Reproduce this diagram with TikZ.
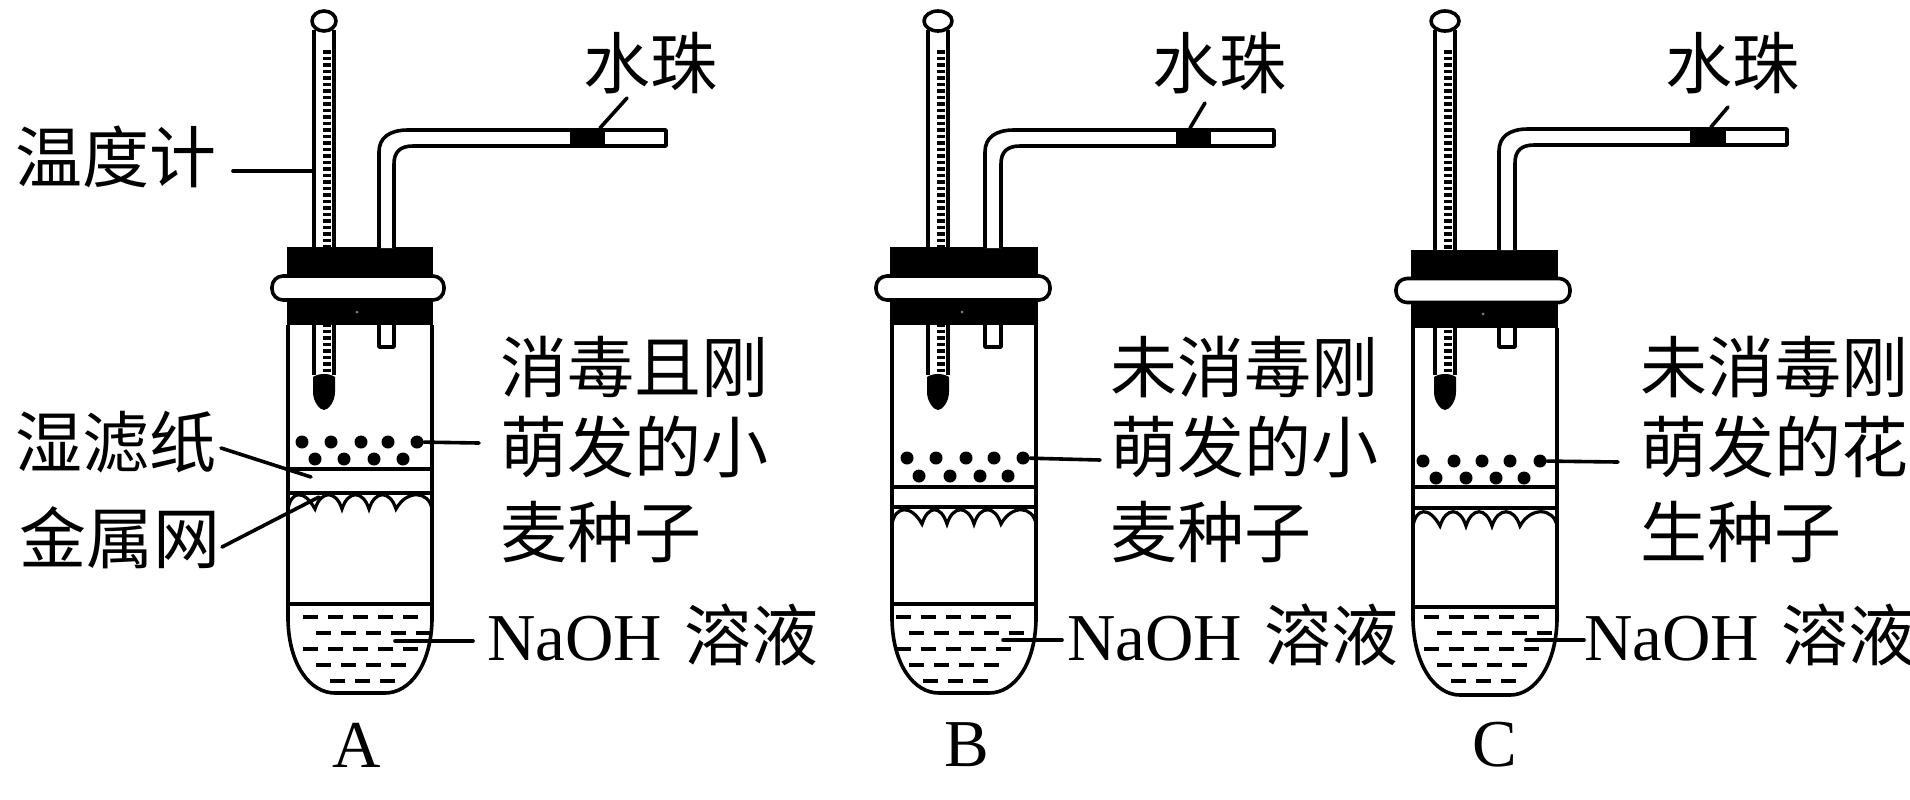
\documentclass[tikz,border=0pt]{standalone}
\usepackage{fontspec}
\setmainfont{Liberation Serif}
\newfontfamily\cjk{Noto Sans CJK SC}
\tikzset{
  wall/.style={line width=1.8pt,line join=round},
  leader/.style={line width=1.8pt,line cap=round},
  lab/.style={inner sep=0pt,anchor=west,font=\fontsize{33.5}{33.5}\selectfont\cjk,text height=29.5pt,text depth=4pt},
  latin/.style={inner sep=0pt,anchor=center,font=\fontsize{33.5}{33.5}\selectfont},
  liquid/.style={line width=1.8pt,dash pattern=on 7.5pt off 5pt},
  seed/.style={circle,fill=black,inner sep=0pt,minimum size=6.5pt},
}
% thermometer, stopper, ring: c, top rx, stopper L R, ring L R, dy, tube L R
\newcommand{\Head}[9]{%
  \draw[wall] (#8,{325+#7}) -- (#8,620);
  \draw[wall] (#9,{325+#7}) -- (#9,620);
  \draw[wall] ({#1-10},30) -- ({#1-10},{375});
  \draw[wall] ({#1+10},30) -- ({#1+10},{375});
  \draw[line width=4pt,dash pattern=on 1.75pt off 1.5pt] ({#1+3},50) -- ({#1+3},375);
  \draw[wall,fill=white] (#1,21) ellipse [x radius=#2,y radius=10];
  \fill ({#1-11},377) .. controls ({#1-5},373) and ({#1+5},373) .. ({#1+11},377)
     -- ({#1+11},392) .. controls ({#1+11},402) and ({#1+4},410) .. (#1,410)
     .. controls ({#1-4},410) and ({#1-11},402) .. ({#1-11},392) -- cycle;
  \fill (#3,{247+#7}) rectangle (#4,{325+#7});
  \draw[wall,fill=white,rounded corners=5.5pt] (#5,{276+#7}) rectangle (#6,{300+#7});
}
% delivery tube: outer x, inner x, end x, bead L R, y top, y bottom, stopper top, stopper bottom
\newcommand{\Pipe}[9]{%
  \draw[wall,fill=white] (#1,#8) -- (#1,{#6+22}) .. controls (#1,{#6+8}) and ({#1+10},#6) .. ({#1+29},#6)
     -- (#3,#6) -- (#3,#7) -- ({#2+19},#7) .. controls ({#2+6},#7) and (#2,{#7+6}) .. (#2,{#7+18}) -- (#2,#8);
  \fill (#4,#6) rectangle (#5,#7);
  \draw[wall] (#1,#9) -- (#1,347) -- (#2,347) -- (#2,#9);
}
% tube bottom: L, R, paper line y, mesh line y, liquid y, bottom y, dash start offset
\newcommand{\Lower}[7]{%
  \draw[wall] (#1,620) .. controls ({#1+1},665) and ({#1+22},#6) .. ({#1+47},#6) -- ({#2-47},#6)
     .. controls ({#2-22},#6) and ({#2-1},665) .. (#2,620);
  \draw[wall] (#1,#3) -- (#2,#3);
  \draw[wall] (#1,#4) -- (#2,#4);
  \draw[wall] (#1,#5) -- (#2,#5);
  \draw[liquid] ({#1+#7},617) -- ({#1+#7+115},617);
  \draw[liquid] ({#1+#7+13},633) -- ({#1+#7+128},633);
  \draw[liquid] ({#1+#7},649) -- ({#1+#7+115},649);
  \draw[liquid] ({#1+#7+13},665) -- ({#1+#7+112},665);
  \draw[liquid] ({#1+#7+27},681) -- ({#1+#7+95},681);
}
% mesh: L R, tips t1..t4, y of tips
\newcommand{\Mesh}[7]{%
  \draw[line width=1.6pt,line join=miter]
    (#1,#7) .. controls ({#1+3},{#7-18}) and ({#3-11},{#7-20}) .. (#3,#7)
    .. controls ({#3+6},{#7-19}) and ({#4-6},{#7-19}) .. (#4,#7)
    .. controls ({#4+6},{#7-19}) and ({#5-6},{#7-19}) .. (#5,#7)
    .. controls ({#5+6},{#7-19}) and ({#6-6},{#7-19}) .. (#6,#7)
    .. controls ({#6+11},{#7-20}) and ({#2-3},{#7-18}) .. (#2,#7);
}
% bead leader / water-drop label: prefix, bottom x, y, top x, y, label x
\newcommand{\Drop}[6]{%
  \node[lab,anchor=center] (#1w) at (#6,63) {水珠};
  \coordinate (#1u) at (#4,#5);
  \coordinate (#1d) at (#2,#3);
  \draw[leader] (#1d) -- (#1u);
}
\begin{document}
\begin{tikzpicture}[x=0.5pt,y=-0.5pt]
\useasboundingbox (0,0) rectangle (1910,799);
% ---- A
\Head{324}{12}{287}{433}{272}{444}{0}{288}{432}
\Pipe{379}{394}{666}{570}{605}{130}{146}{248}{325}
\Lower{288}{432}{469}{493}{604}{693}{15}
\Mesh{288}{432}{315}{342}{369}{396}{509}
\fill[gray] (357,312) circle [radius=1.5];
\Drop{a}{600}{128}{627}{98}{650}
% ---- B
\Head{938}{14}{890}{1038}{876}{1050}{0}{892}{1036}
\Pipe{985}{1001}{1274}{1176}{1211}{130}{146}{248}{325}
\Lower{892}{1036}{487}{507}{604}{693}{4}
\Mesh{892}{1036}{922}{947}{974}{1001}{524}
\fill[gray] (962,312) circle [radius=1.5];
\Drop{b}{1190}{128}{1205}{103}{1219}
% ---- C
\Head{1445}{14}{1411}{1558}{1396}{1570}{2.5}{1413}{1557}
\Pipe{1499}{1515}{1787}{1690}{1726}{129}{145}{250}{328}
\Lower{1413}{1557}{487}{508}{607}{695}{11}
\Mesh{1413}{1557}{1440}{1466}{1492}{1520}{526}
\fill[gray] (1483,314) circle [radius=1.5];
\Drop{c}{1711}{127}{1728}{107}{1732}
% ---- seeds
\foreach \x/\n in {302/1,331/2,361/3,388/4,417/5} \node[seed] (as\n) at (\x,442) {};
\foreach \x/\n in {315/6,344/7,374/8,403/9} \node[seed] (as\n) at (\x,459) {};
\foreach \x/\n in {907/1,936/2,966/3,994/4,1023/5} \node[seed] (bs\n) at (\x,458) {};
\foreach \x/\n in {919/6,950/7,980/8,1008/9} \node[seed] (bs\n) at (\x,476) {};
\foreach \x/\n in {1423/1,1454/2,1482/3,1510/4,1540/5} \node[seed] (cs\n) at (\x,461) {};
\foreach \x/\n in {1436/6,1466/7,1496/8,1524/9} \node[seed] (cs\n) at (\x,478) {};
% ---- left labels
\node[lab] (temp) at (15,157) {温度计};
\node[lab] (wet) at (15,442) {湿滤纸};
\node[lab] (mesh) at (19,538) {金属网};
\coordinate (tempa) at (233,171); \coordinate (tempb) at (313,171);
\coordinate (weta) at (221,448); \coordinate (wetb) at (311,477);
\coordinate (mesha) at (222,547); \coordinate (meshb) at (319,497);
\draw[leader] (tempa) -- (tempb);
\draw[leader] (weta) -- (wetb);
\draw[leader] (mesha) -- (meshb);
% ---- right labels A
\node[lab] (a1) at (500,367) {消毒且刚};
\node[lab] (a2) at (500,447) {萌发的小};
\node[lab] (a3) at (500,532) {麦种子};
\coordinate (asl) at (479,443);
\draw[leader] (as5) -- (asl);
\node[lab] (an) at (487,635) {\fontspec{Liberation Serif}NaOH\,\,\cjk{}溶液};
\coordinate (ana) at (395,641); \coordinate (anb) at (473,641);
\draw[leader] (ana) -- (anb);
\node[latin] (la) at (357,745) {A};
% ---- right labels B
\node[lab] (b1) at (1110,367) {未消毒刚};
\node[lab] (b2) at (1110,447) {萌发的小};
\node[lab] (b3) at (1110,532) {麦种子};
\coordinate (bsl) at (1100,460);
\draw[leader] (bs5) -- (bsl);
\node[lab] (bn) at (1067,635) {\fontspec{Liberation Serif}NaOH\,\,\cjk{}溶液};
\coordinate (bna) at (1003,640); \coordinate (bnb) at (1062,640);
\draw[leader] (bna) -- (bnb);
\node[latin] (lb) at (967,745) {B};
% ---- right labels C
\node[lab] (c1) at (1640,367) {未消毒刚};
\node[lab] (c2) at (1640,447) {萌发的花};
\node[lab] (c3) at (1640,532) {生种子};
\coordinate (csl) at (1618,462);
\draw[leader] (cs5) -- (csl);
\node[lab] (cn) at (1584,635) {\fontspec{Liberation Serif}NaOH\,\,\cjk{}溶液};
\coordinate (cna) at (1526,640); \coordinate (cnb) at (1584,640);
\draw[leader] (cna) -- (cnb);
\node[latin] (lc) at (1495,745) {C};
\end{tikzpicture}
\end{document}
